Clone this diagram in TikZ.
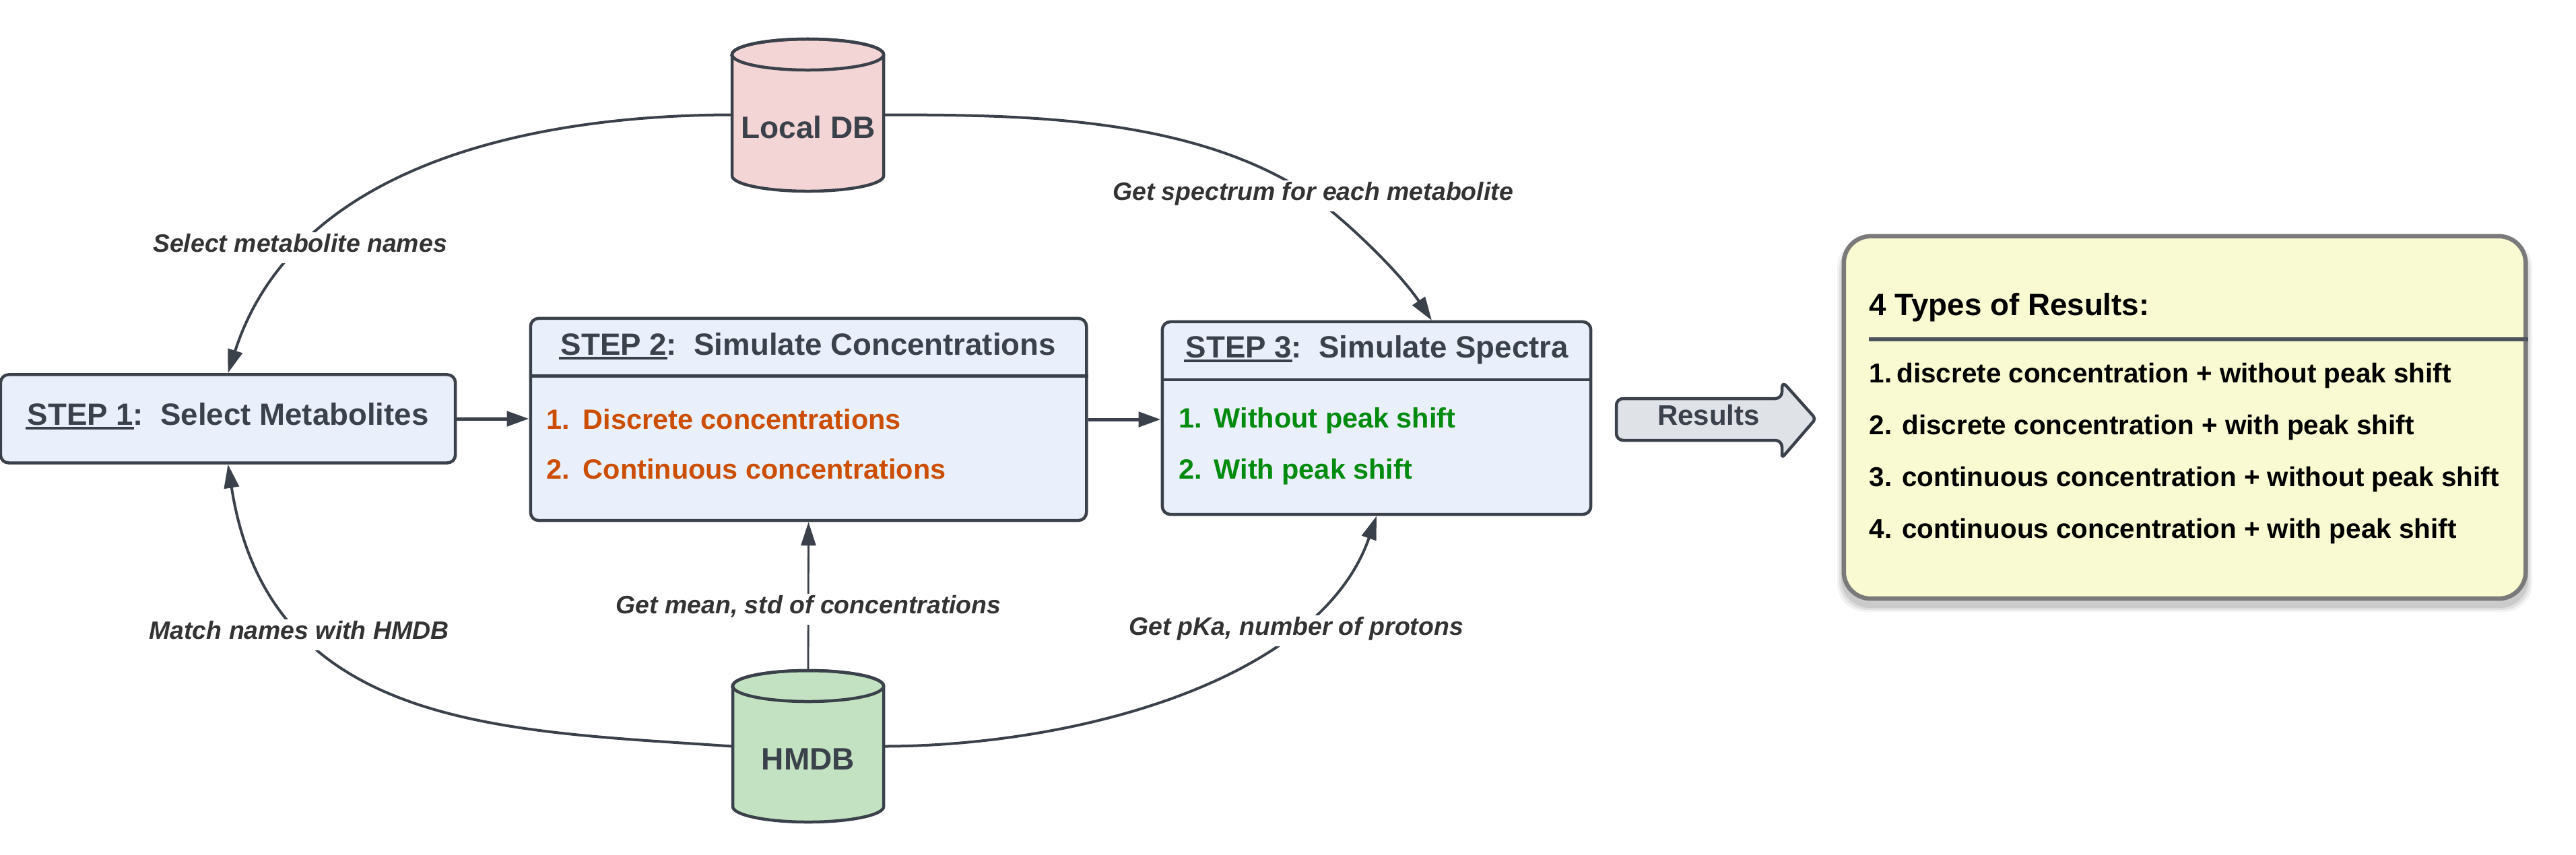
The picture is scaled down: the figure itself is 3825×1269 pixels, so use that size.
\documentclass[tikz,border=0pt]{standalone}
\usepackage{fontspec}
\usetikzlibrary{arrows.meta}
\setmainfont{Liberation Sans}
\definecolor{ink}{HTML}{3A414A}
\definecolor{lab}{HTML}{333333}
\definecolor{boxfill}{HTML}{E9F0FB}
\definecolor{rosefill}{HTML}{F4D5D6}
\definecolor{greenfill}{HTML}{C3E2C2}
\definecolor{greyfill}{HTML}{DFE3E8}
\definecolor{yellowfill}{HTML}{F9FAD1}
\definecolor{orangetxt}{HTML}{CC4E00}
\definecolor{greentxt}{HTML}{008A0E}
\newcommand\pxf[1]{\fontsize{\fpeval{#1*0.28453}}{\fpeval{#1*0.34}}\selectfont}
\newcommand\ulx[1]{\setbox0\hbox{#1}\rlap{\kern-0.8pt\rule[-1.9pt]{\dimexpr\wd0+1pt\relax}{1.15pt}}\box0}
\tikzset{
  stepbox/.style={draw=ink,fill=boxfill,line width=.045cm,rounded corners=.12cm,inner sep=0pt},
  head/.style={anchor=base west,inner sep=0pt,text=ink,font=\bfseries\pxf{45.6}},
  item/.style={anchor=base west,inner sep=0pt,font=\bfseries\pxf{41.4}},
  res/.style={anchor=base west,inner sep=0pt,text=black,font=\bfseries\pxf{40.4}},
  dbtxt/.style={inner sep=0pt,anchor=base,text=ink,font=\bfseries\pxf{46}},
  lbl/.style={anchor=base,inner sep=0pt,fill=white,text=lab,text height=.29cm,text depth=.17cm,font=\bfseries\itshape\pxf{37.4}},
  conn/.style={draw=ink,line width=.04cm,-{Triangle[length=.35cm,width=.22cm]}},
  connthin/.style={draw=ink,line width=.028cm,-{Triangle[length=.35cm,width=.22cm]}},
  connbold/.style={draw=ink,line width=.05cm,-{Triangle[length=.33cm,width=.22cm]}},
  anchorbox/.style={inner sep=0pt,minimum width=2.25cm,minimum height=2.26cm},
  cyl/.style={draw=ink,line width=.045cm},
}
\begin{document}
\begin{tikzpicture}[x=0.01cm,y=-0.01cm]
\useasboundingbox (0,0) rectangle (3825,1269);
\fill[white] (0,0) rectangle (3825,1269);

% boxes
\node[stepbox,minimum width=6.75cm,minimum height=1.31cm] (s1) at (338.5,622) {};
\node[stepbox,minimum width=8.25cm,minimum height=3.00cm] (s2) at (1200.5,623) {};
\node[stepbox,minimum width=6.36cm,minimum height=2.86cm] (s3) at (2044,621) {};
\draw[ink,line width=.05cm] (s2.west |- 0,558) -- (s2.east |- 0,558);
\draw[ink,line width=.04cm] (s3.west |- 0,563.5) -- (s3.east |- 0,563.5);

% cylinders
\node[anchorbox] (ldb) at (1199.5,170.5) {};
\draw[cyl,fill=rosefill] (1087,81) -- (1087,261) arc[start angle=180,end angle=360,x radius=1.125cm,y radius=.23cm] -- (1312,81) arc[start angle=0,end angle=180,x radius=1.125cm,y radius=.23cm] -- cycle;
\draw[cyl] (1199.5,81) ellipse[x radius=1.125cm,y radius=.23cm];
\node[anchorbox] (hm) at (1200,1108.5) {};
\draw[cyl,fill=greenfill] (1088,1019) -- (1088,1198) arc[start angle=180,end angle=360,x radius=1.12cm,y radius=.23cm] -- (1312,1019) arc[start angle=0,end angle=180,x radius=1.12cm,y radius=.23cm] -- cycle;
\draw[cyl] (1200,1019) ellipse[x radius=1.12cm,y radius=.23cm];

% connectors
\coordinate (s3a) at (2126,476);
\coordinate (tr) at (1946,290);
\draw[connbold] (s1.east) -- (s2.west |- s1.east);
\draw[connbold] (s2.east |- 0,623) -- (s3.west |- 0,623);
\draw[conn] (ldb.west) .. controls (800,171) and (440,240) .. (s1.north);
\draw[conn] (hm.west) .. controls (750,1085) and (400,1085) .. (s1.south);
\draw[conn] (ldb.east) .. controls (1500,171) and (1766,169) .. (tr) .. controls (1990,320) and (2075,400) .. (s3a);
\draw[conn] (hm.east) .. controls (1600,1108) and (1960,1010) .. (s3.south);
\draw[connthin] (hm.north) -- (s2.south);

% connector labels
\node[lbl] (l1) at (445.5,374) {Select metabolite names};
\node[lbl] (l2) at (1949.5,297) {Get spectrum for each metabolite};
\node[lbl] (l3) at (1200.5,911) {Get mean, std of concentrations};
\node[lbl] (l4) at (1924.5,943) {Get pKa, number of protons};
\node[lbl] (l5) at (444,949) {Match names with HMDB};

% box texts
\node[head] (t1) at (40,631) {\ulx{STEP 1}:\hspace{.556em}Select Metabolites};
\node[head] (t2) at (832,527) {\ulx{STEP 2}:\hspace{.556em}Simulate Concentrations};
\node[head] (t3) at (1760,531) {\ulx{STEP 3}:\hspace{.556em}Simulate Spectra};
\node[item,text=orangetxt] (a1) at (811,637) {\hbox to 15.4pt{1.\hss}Discrete concentrations};
\node[item,text=orangetxt] (a2) at (811,711) {\hbox to 15.4pt{2.\hss}Continuous concentrations};
\node[item,text=greentxt] (b1) at (1750,635) {\hbox to 14.8pt{1.\hss}Without peak shift};
\node[item,text=greentxt] (b2) at (1750,711) {\hbox to 14.8pt{2.\hss}With peak shift};
\node[dbtxt] (dl) at (1200,205) {Local DB};
\node[dbtxt] (dh) at (1200,1143) {HMDB};

% results arrow
\draw[cyl,fill=greyfill,rounded corners=.1cm] (2400,592) -- (2646,592) -- (2646,566) [rounded corners=.05cm] -- (2696,622) -- (2646,680) [rounded corners=.1cm] -- (2646,654) -- (2400,654) -- cycle;
\node[inner sep=0pt,anchor=base,text=ink,font=\bfseries\pxf{42}] (rr) at (2537,631) {Results};

% results panel
\foreach \s/\o in {10/.05,7/.07,4/.09}{
  \fill[black,opacity=\o,rounded corners=.42cm] (2738-\s,351+14-\s) rectangle (3750+\s,889+10+\s);
}
\node[draw=black!52,fill=yellowfill,line width=.065cm,rounded corners=.4cm,inner sep=0pt,minimum width=10.12cm,minimum height=5.38cm] (rp) at (3244,620) {};
\draw[ink!90,line width=.06cm] (2775,504) -- (rp.east |- 0,504);
\node[res,font=\bfseries\pxf{45.7}] (r0) at (2775,468) {4 Types of Results:};
\node[res] (r1) at (2775,568.5) {1.\kern-1.2pt\ discrete concentration + without peak shift};
\node[res] (r2) at (2775,645.5) {2. discrete concentration + with peak shift};
\node[res] (r3) at (2775,722.5) {3. continuous concentration + without peak shift};
\node[res] (r4) at (2775,799.5) {4. continuous concentration + with peak shift};
\end{tikzpicture}
\end{document}
